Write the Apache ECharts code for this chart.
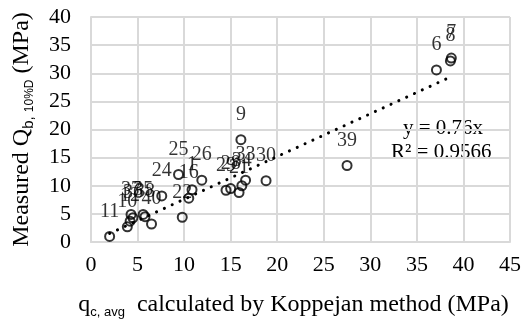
<!DOCTYPE html>
<html>
<head>
<meta charset="utf-8">
<script src="https://cdn.jsdelivr.net/npm/echarts@6/dist/echarts.min.js"></script>
<style>
  html, body { margin: 0; padding: 0; background: #fff; }
  #chart { width: 524px; height: 324px; }
</style>
</head>
<body>
<div id="chart"></div>
<script>
// Pile identifiers and their measured / calculated values (MPa)
const pileIds = ['11', '10', '12', '37', '36', '35', '38', '40', '24', '22', '25', '16', '1', '26',
                 '29', '28', '21', '34', '33', '30', '9', '39', '6', '8', '7'];
const qcAvg = [2.0, 3.9, 4.2, 4.3, 4.5, 5.6, 5.8, 6.5, 7.6, 9.8, 9.4, 10.5, 10.85, 11.9,
               14.5, 15.0, 15.9, 16.2, 16.6, 18.8, 16.1, 27.5, 37.1, 38.6, 38.7];
const qbMeasured = [1.0, 2.7, 3.7, 4.9, 4.3, 4.9, 4.5, 3.2, 8.2, 4.4, 12.0, 7.8, 9.3, 11.0,
                    9.2, 9.5, 8.8, 10.0, 11.0, 10.9, 18.2, 13.6, 30.6, 32.2, 32.7];

// Linear fit through the origin
const trendSlope = 0.76;
const trendR2 = '0.9566';

const xTicks = { min: 0, max: 45, interval: 5 };
const yTicks = { min: 0, max: 40, interval: 5 };

const pts = qcAvg.map((x, i) => ({ value: [x, qbMeasured[i]], name: pileIds[i] }));
const xMin = Math.min(...qcAvg);
const xMax = Math.max(...qcAvg);
const trend = [[xMin, trendSlope * xMin], [xMax, trendSlope * xMax]];

const serif = 'Liberation Serif';
const gridColor = '#d9d9d9';

const chart = echarts.init(document.getElementById('chart'), null, { renderer: 'canvas' });
chart.setOption({
  animation: false,
  backgroundColor: '#ffffff',
  grid: { left: 86, right: 12, top: 17, bottom: 80, containLabel: false },
  xAxis: {
    type: 'value',
    min: xTicks.min, max: xTicks.max, interval: xTicks.interval,
    axisLine: { show: true, lineStyle: { color: gridColor, width: 2 } },
    axisTick: { show: false },
    splitLine: { show: true, lineStyle: { color: gridColor, width: 2 } },
    axisLabel: { color: '#000', fontFamily: serif, fontSize: 22, margin: 12 },
    name: 'q{sub|c, avg}  calculated by Koppejan method (MPa)',
    nameLocation: 'middle',
    nameGap: 49,
    nameTextStyle: {
      color: '#000', fontFamily: serif, fontSize: 24, lineHeight: 28,
      padding: [0, 14, 0, 0],
      rich: {
        sub: { fontFamily: 'Liberation Sans', fontSize: 13, color: '#000',
               verticalAlign: 'bottom', lineHeight: 13, padding: [12, 0, 0, 0] }
      }
    }
  },
  yAxis: {
    type: 'value',
    min: yTicks.min, max: yTicks.max, interval: yTicks.interval,
    axisLine: { show: true, lineStyle: { color: gridColor, width: 2 } },
    axisTick: { show: false },
    splitLine: { show: true, lineStyle: { color: gridColor, width: 2 } },
    axisLabel: { color: '#000', fontFamily: serif, fontSize: 22, margin: 20 },
    name: 'Measured Q{sub|b, }{sub2|10%D} (MPa)',
    nameLocation: 'middle',
    nameGap: 55,
    nameTextStyle: {
      color: '#000', fontFamily: serif, fontSize: 24, lineHeight: 28,
      rich: {
        sub: { fontFamily: 'Liberation Sans', fontSize: 15, color: '#000',
               verticalAlign: 'bottom', lineHeight: 15, padding: [12, 0, 0, 0] },
        sub2: { fontFamily: 'Liberation Sans', fontSize: 12, color: '#000',
                verticalAlign: 'bottom', lineHeight: 12, padding: [12, 0, 0, 0] }
      }
    }
  },
  series: [
    {
      type: 'line',
      data: trend,
      symbol: 'none',
      silent: true,
      z: 1,
      lineStyle: { color: '#000', width: 3, type: [0.1, 8.5], cap: 'round' }
    },
    {
      type: 'scatter',
      data: pts,
      symbol: 'circle',
      symbolSize: 9,
      z: 3,
      itemStyle: { color: 'rgba(255,255,255,0)', borderColor: '#000', borderWidth: 2 },
      label: {
        show: true,
        position: 'inside',
        offset: [0, -25],
        formatter: p => p.name,
        color: '#000',
        fontFamily: serif,
        fontSize: 20
      }
    }
  ],
  graphic: [
    {
      type: 'text', left: 403, top: 118,
      style: { text: 'y = 0.76x', fontFamily: serif, fontSize: 21, fill: '#000' }
    },
    {
      type: 'text', left: 391, top: 142,
      style: { text: 'R² = ' + trendR2, fontFamily: serif, fontSize: 21, fill: '#000' }
    }
  ]
});
</script>
</body>
</html>
